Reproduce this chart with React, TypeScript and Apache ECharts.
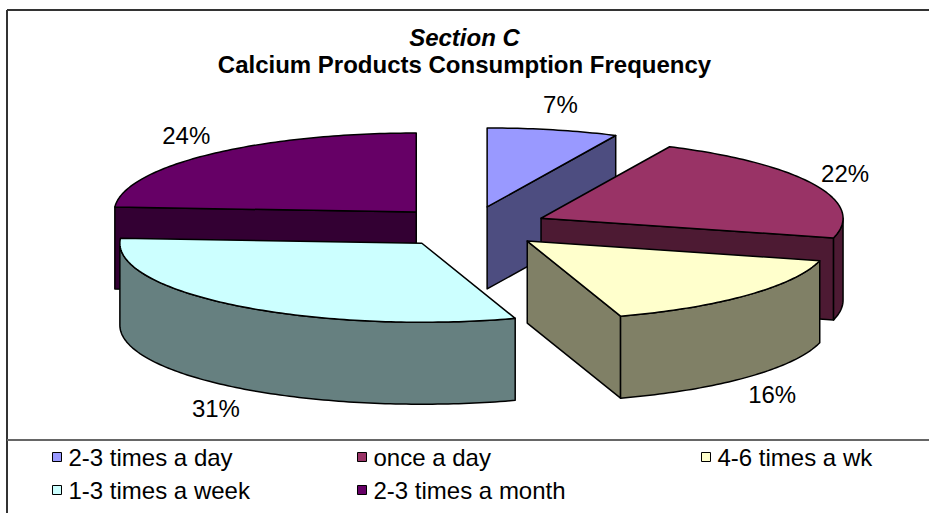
import React, { useEffect, useRef } from "react";
import * as echarts from "echarts";

const categories = ["2-3 times a day", "once a day", "4-6 times a wk", "1-3 times a week", "2-3 times a month"];
const values = [7, 22, 16, 31, 24];
const topColors = ["#9999FF", "#993366", "#FFFFCC", "#CCFFFF", "#660066"];
const sideColors = ["#4D4D80", "#4D1A33", "#808066", "#668080", "#330033"];
const titleLine1 = "Section C";
const titleLine2 = "Calcium Products Consumption Frequency";

const FONT = "'Liberation Sans', Arial, sans-serif";

export default function App() {
  const ref = useRef<HTMLDivElement>(null);

  useEffect(() => {
    if (!ref.current) return;
    const chart = echarts.init(ref.current, undefined, { renderer: "svg" });

    const CX = 470, CY = 227, RX = 302, RY = 79, D = 82, EXPLODE = 0.26;
    const total = values.reduce((a, b) => a + b, 0);
    const deg = Math.PI / 180;
    const starts: number[] = [];
    let acc = 0;
    values.forEach((v) => { starts.push((acc / total) * 360); acc += v; });

    const slice = (i: number) => {
      const s = starts[i];
      const e = s + (values[i] / total) * 360;
      const mid = (s + e) / 2;
      const ox = EXPLODE * RX * Math.sin(mid * deg);
      const oy = -EXPLODE * RY * Math.cos(mid * deg);
      const px = (a: number, r = 1) => CX + ox + r * RX * Math.sin(a * deg);
      const py = (a: number, r = 1, h = 0) => CY + oy - r * RY * Math.cos(a * deg) + h;
      return { s, e, mid, ox, oy, px, py };
    };

    const arc = (a0: number, a1: number, f: (a: number) => number[]) => {
      const pts: number[][] = [];
      const n = Math.max(2, Math.ceil(Math.abs(a1 - a0)));
      for (let k = 0; k <= n; k++) pts.push(f(a0 + ((a1 - a0) * k) / n));
      return pts;
    };

    const stroke = { stroke: "#000", lineWidth: 1.5, lineJoin: "round" as const };

    const renderSlice = (i: number) => () => {
      const { s, e, mid, px, py } = slice(i);
      const children: any[] = [];
      const cTop = [px(0, 0), py(0, 0)];
      const cBot = [px(0, 0), py(0, 0, D)];
      // radial faces
      if (Math.sin(s * deg) < -1e-6) {
        children.push({ type: "polygon", shape: { points: [cTop, [px(s), py(s)], [px(s), py(s, 1, D)], cBot] }, style: { fill: sideColors[i], ...stroke } });
      }
      if (Math.sin(e * deg) > 1e-6) {
        children.push({ type: "polygon", shape: { points: [cTop, [px(e), py(e)], [px(e), py(e, 1, D)], cBot] }, style: { fill: sideColors[i], ...stroke } });
      }
      // outer wall (front half: 90..270)
      const w0 = Math.max(s, 90), w1 = Math.min(e, 270);
      if (w1 > w0) {
        const topArc = arc(w0, w1, (a) => [px(a), py(a)]);
        const botArc = arc(w1, w0, (a) => [px(a), py(a, 1, D)]);
        children.push({ type: "polygon", shape: { points: [...topArc, ...botArc] }, style: { fill: sideColors[i], ...stroke } });
      }
      // top face
      children.push({ type: "polygon", shape: { points: [cTop, ...arc(s, e, (a) => [px(a), py(a)])] }, style: { fill: topColors[i], ...stroke } });
      // label
      const sn = Math.sin(mid * deg), cs = Math.cos(mid * deg);
      const lx = px(mid) + 34 * sn;
      const ly = py(mid, 1, cs < 0 ? D : 0) - 26 * cs;
      children.push({ type: "text", z2: 100, style: { text: values[i] + "%", x: lx, y: ly, align: "center", verticalAlign: "middle", fontSize: 24, fontFamily: FONT, fill: "#000" } });
      return { type: "group", children };
    };

    // draw order: back slices first
    const depthRank = values.map((_, i) => i).sort((a, b) => Math.cos(slice(b).mid * deg) - Math.cos(slice(a).mid * deg));

    const series = categories.map((name, i) => ({
      type: "custom",
      name,
      coordinateSystem: "none",
      silent: true,
      z: 2 + depthRank.indexOf(i),
      itemStyle: { color: topColors[i], borderColor: "#000", borderWidth: 1 },
      data: [values[i]],
      renderItem: renderSlice(i),
    }));

    const legendPos = [
      { left: 52, top: 445 },
      { left: 357, top: 445 },
      { left: 701, top: 445 },
      { left: 52, top: 478 },
      { left: 357, top: 478 },
    ];

    chart.setOption({
      animation: false,
      title: [
        { text: titleLine1, left: "center", top: 25, padding: 0, textStyle: { fontSize: 24, fontWeight: "bold", fontStyle: "italic", fontFamily: FONT, color: "#000", lineHeight: 24 } },
        { text: titleLine2, left: "center", top: 52, padding: 0, textStyle: { fontSize: 24, fontWeight: "bold", fontFamily: FONT, color: "#000", lineHeight: 24 } },
      ],
      legend: categories.map((name, i) => ({
        data: [name],
        left: legendPos[i].left,
        top: legendPos[i].top,
        padding: 0,
        icon: "rect",
        itemWidth: 9,
        itemHeight: 9,
        selectedMode: false,
        itemStyle: { borderColor: "#000", borderWidth: 1 },
        textStyle: { fontSize: 24, fontFamily: FONT, color: "#000", lineHeight: 24, padding: [0, 0, 0, 2] },
      })),
      graphic: [
        { type: "line", shape: { x1: 7, y1: 10, x2: 929, y2: 10 }, style: { stroke: "#333", lineWidth: 2 } },
        { type: "line", shape: { x1: 7, y1: 10, x2: 7, y2: 513 }, style: { stroke: "#333", lineWidth: 2 } },
        { type: "line", shape: { x1: 7, y1: 440, x2: 929, y2: 440 }, style: { stroke: "#666", lineWidth: 2 } },
      ],
      series,
    });

    return () => chart.dispose();
  }, []);

  return <div ref={ref} style={{ position: "fixed", left: 0, top: 0, width: 929, height: 513, background: "#fff" }} />;
}
